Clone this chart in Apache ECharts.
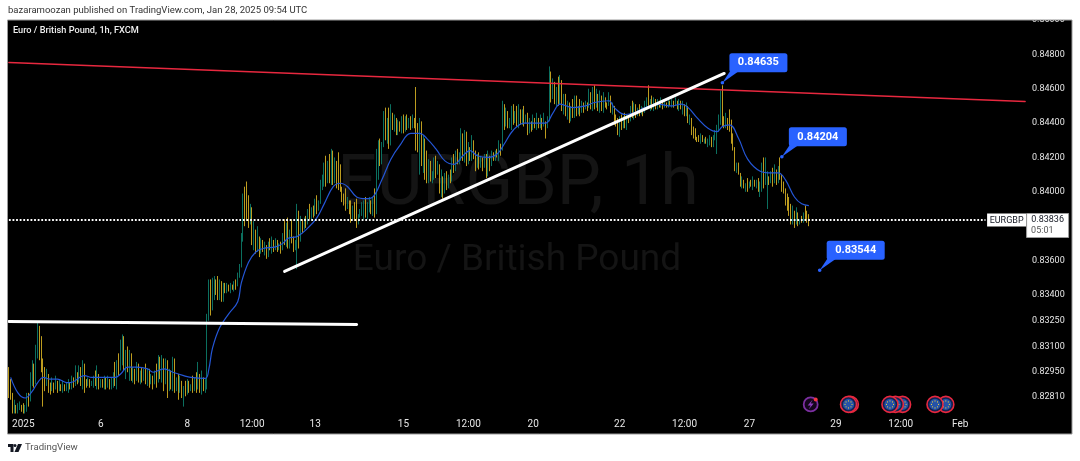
<!DOCTYPE html>
<html><head><meta charset="utf-8">
<style>html,body{margin:0;padding:0;background:#fff}#c{width:1080px;height:461px}</style>
<script src="https://cdn.jsdelivr.net/npm/echarts@6/dist/echarts.min.js"></script>
</head><body><div id="c"></div>
<script>
// prices are in units of 0.0001 (8480 = 0.84800); open of a bar = previous close
const highs=[
8298,8291,8283,8279,8276,8277,8278,8276,8277,8276,8283,8283,8295,8302,8300,8311,8324,8322,8316,8303,
8298,8297,8292,8289,8292,8289,8293,8289,8291,8288,8290,8288,8289,8291,8289,8293,8292,8299,8295,8299,
8298,8302,8300,8291,8292,8291,8290,8293,8296,8299,8294,8291,8291,8293,8292,8293,8290,8292,8295,8301,
8302,8306,8314,8317,8312,8304,8310,8308,8300,8298,8296,8301,8300,8296,8298,8297,8300,8295,8292,8294,
8293,8296,8300,8305,8304,8305,8300,8303,8302,8297,8296,8304,8298,8292,8294,8293,8290,8287,8290,8291,
8290,8288,8293,8292,8295,8301,8294,8296,8292,8291,8329,8349,8349,8350,8351,8349,8351,8349,8348,8347,
8347,8347,8346,8347,8346,8348,8349,8353,8358,8376,8399,8403,8406,8398,8393,8391,8383,8378,8380,8370,
8373,8372,8371,8368,8370,8373,8374,8372,8373,8372,8370,8371,8376,8384,8382,8385,8378,8384,8374,8372,
8393,8389,8386,8384,8385,8386,8390,8393,8391,8392,8396,8398,8395,8407,8410,8417,8421,8418,8422,8425,
8424,8420,8415,8423,8416,8403,8399,8402,8397,8394,8395,8392,8394,8396,8387,8390,8394,8395,8397,8394,
8397,8395,8397,8402,8425,8430,8431,8429,8447,8449,8443,8449,8451,8446,8445,8443,8442,8441,8444,8445,
8444,8445,8441,8444,8445,8443,8461,8440,8443,8438,8433,8431,8424,8419,8418,8412,8420,8421,8418,8415,
8413,8404,8411,8412,8410,8413,8420,8422,8424,8425,8423,8437,8431,8436,8435,8429,8426,8433,8428,8424,
8422,8423,8421,8420,8422,8422,8424,8419,8424,8423,8424,8425,8430,8428,8453,8451,8449,8447,8443,8450,
8451,8447,8450,8451,8446,8448,8450,8445,8446,8443,8440,8445,8443,8446,8443,8445,8443,8446,8440,8444,
8473,8456,8466,8464,8461,8467,8468,8459,8457,8457,8453,8452,8450,8454,8456,8456,8450,8454,8453,8452,
8453,8452,8460,8454,8461,8462,8460,8455,8459,8456,8458,8455,8452,8458,8454,8452,8449,8445,8443,8444,
8445,8444,8446,8445,8443,8450,8453,8452,8449,8447,8451,8450,8449,8453,8455,8462,8452,8456,8455,8454,
8454,8453,8455,8453,8454,8452,8455,8453,8454,8453,8455,8452,8454,8453,8453,8451,8452,8450,8445,8442,
8438,8437,8432,8433,8434,8433,8431,8432,8431,8433,8432,8433,8436,8439,8445,8459,8462,8444,8446,8441,
8448,8442,8434,8425,8417,8417,8410,8409,8405,8405,8408,8406,8407,8409,8405,8407,8408,8406,8417,8420,
8420,8412,8409,8412,8414,8416,8411,8415,8420,8410,8406,8402,8399,8397,8393,8392,8389,8391,8388,8384,8386,8385,8392,8389,8387];
const lows=[
8280,8279,8271,8271,8271,8272,8273,8272,8271,8271,8272,8275,8278,8287,8286,8288,8303,8302,8295,8275,
8284,8287,8283,8282,8284,8283,8285,8283,8285,8284,8283,8284,8284,8283,8285,8285,8286,8287,8288,8289,
8287,8285,8283,8286,8287,8286,8287,8286,8287,8285,8285,8286,8286,8285,8285,8286,8285,8285,8286,8287,
8285,8293,8296,8299,8296,8291,8296,8290,8290,8289,8288,8290,8289,8288,8289,8290,8288,8287,8286,8288,
8285,8288,8286,8290,8291,8289,8284,8288,8280,8284,8285,8284,8283,8284,8279,8283,8280,8275,8281,8282,
8283,8284,8283,8284,8283,8285,8283,8282,8284,8283,8285,8325,8328,8331,8337,8340,8337,8337,8336,8336,
8341,8341,8342,8341,8343,8342,8343,8345,8350,8361,8371,8380,8383,8379,8381,8369,8366,8364,8365,8362,
8364,8365,8363,8361,8362,8366,8364,8365,8366,8365,8366,8364,8366,8369,8368,8367,8367,8370,8365,8366,
8355,8367,8371,8376,8378,8379,8381,8384,8383,8385,8386,8387,8389,8393,8401,8403,8403,8405,8405,8404,
8404,8405,8402,8401,8400,8394,8392,8389,8390,8387,8382,8384,8383,8379,8381,8385,8386,8384,8385,8384,
8388,8387,8386,8385,8401,8407,8415,8416,8428,8430,8428,8425,8427,8436,8435,8433,8433,8435,8434,8434,
8435,8436,8437,8436,8437,8437,8424,8423,8410,8415,8411,8407,8405,8405,8406,8405,8407,8408,8410,8399,
8397,8396,8400,8401,8402,8405,8409,8411,8412,8416,8416,8418,8418,8417,8415,8416,8418,8418,8419,8412,
8414,8413,8414,8412,8414,8408,8409,8412,8418,8418,8418,8420,8418,8421,8428,8436,8438,8437,8437,8436,
8439,8440,8438,8437,8439,8439,8438,8440,8433,8434,8435,8436,8437,8436,8437,8437,8436,8438,8431,8437,
8441,8452,8454,8451,8450,8450,8451,8447,8445,8444,8442,8440,8441,8443,8443,8444,8445,8444,8446,8446,
8448,8447,8449,8448,8447,8448,8449,8447,8446,8447,8446,8449,8448,8450,8446,8445,8439,8438,8433,8432,
8436,8437,8437,8436,8440,8442,8443,8442,8443,8444,8444,8445,8444,8446,8449,8449,8447,8448,8447,8448,
8448,8449,8449,8448,8449,8449,8449,8450,8449,8449,8450,8448,8447,8448,8445,8444,8444,8440,8439,8433,
8431,8430,8429,8429,8428,8429,8428,8428,8426,8427,8426,8426,8430,8422,8435,8439,8438,8437,8437,8436,
8435,8428,8424,8412,8411,8410,8403,8402,8402,8400,8400,8402,8403,8401,8403,8402,8400,8397,8400,8402,
8405,8390,8404,8405,8403,8406,8404,8405,8407,8400,8399,8392,8389,8386,8381,8381,8379,8384,8380,8381,8382,8382,8383,8382,8380];
const closes=[
8287,8280,8272,8272,8271,8276,8276,8274,8272,8275,8282,8280,8293,8300,8290,8307,8322,8308,8301,8293,
8289,8294,8287,8285,8289,8286,8290,8284,8287,8284,8288,8285,8286,8289,8286,8291,8287,8294,8290,8296,
8288,8299,8290,8287,8289,8288,8289,8290,8287,8294,8287,8290,8288,8291,8287,8291,8288,8290,8292,8288,
8298,8296,8311,8316,8301,8308,8295,8306,8292,8297,8291,8298,8292,8296,8290,8295,8292,8297,8289,8291,
8290,8294,8289,8299,8292,8303,8291,8301,8285,8296,8287,8303,8286,8290,8285,8290,8281,8287,8283,8288,
8284,8287,8285,8290,8286,8291,8287,8292,8285,8287,8327,8345,8335,8347,8348,8343,8340,8346,8339,8344,
8343,8345,8342,8345,8344,8347,8346,8352,8356,8374,8398,8392,8386,8381,8387,8372,8376,8367,8374,8365,
8370,8366,8369,8363,8371,8367,8372,8366,8371,8368,8369,8367,8375,8371,8381,8371,8377,8372,8368,8370,
8375,8372,8380,8378,8383,8381,8388,8385,8391,8387,8394,8389,8393,8404,8408,8415,8407,8416,8409,8420,
8410,8418,8407,8403,8402,8397,8395,8391,8395,8392,8389,8391,8386,8385,8385,8389,8391,8392,8388,8390,
8393,8389,8395,8387,8420,8427,8418,8426,8444,8432,8440,8434,8444,8438,8441,8437,8439,8436,8442,8437,
8440,8438,8443,8439,8442,8438,8430,8427,8441,8420,8429,8412,8409,8417,8408,8410,8419,8412,8416,8402,
8409,8399,8408,8403,8409,8406,8417,8413,8421,8419,8422,8434,8425,8433,8420,8424,8420,8430,8421,8414,
8418,8415,8420,8416,8419,8411,8421,8415,8422,8419,8423,8421,8428,8424,8451,8441,8447,8440,8442,8447,
8442,8445,8441,8448,8442,8446,8440,8443,8436,8441,8438,8443,8439,8443,8440,8442,8439,8441,8438,8443,
8470,8454,8462,8453,8458,8452,8465,8450,8455,8446,8451,8443,8448,8445,8453,8447,8449,8447,8451,8448,
8450,8449,8458,8451,8459,8450,8457,8449,8456,8450,8454,8452,8450,8456,8448,8450,8442,8441,8436,8441,
8438,8443,8439,8442,8441,8448,8445,8451,8446,8449,8447,8449,8446,8451,8453,8451,8454,8450,8453,8450,
8452,8450,8453,8450,8452,8451,8453,8451,8452,8450,8453,8449,8452,8449,8451,8446,8449,8441,8443,8436,
8434,8432,8431,8430,8432,8430,8431,8429,8430,8431,8428,8431,8434,8437,8443,8456,8441,8440,8443,8438,
8436,8430,8426,8414,8416,8411,8405,8407,8403,8404,8402,8405,8403,8407,8404,8405,8402,8404,8415,8404,
8407,8408,8406,8411,8405,8413,8407,8412,8409,8403,8400,8394,8391,8387,8383,8387,8381,8387,8383,8384,8383,8388,8386,8385,8383.6];
// moving average, read at the listed bar numbers
const maBars=[1,5,9,13,16,19,23,27,32,34,42,46,53,59,62,66,71,77,80,86,91,97,101,109,111,113,117,122,127,129,133,137,141,148,152,155,160,166,171,175,180,184,188,193,198,202,207,212,217,223,228,232,237,242,247,252,256,260,266,271,275,280,286,294,298,302,306,313,320,325,333,336,342,347,353,360,368,373,377,382,388,393,396,400,405,410,417,423,427,431,436,440,444];
const maValues=[8292,8283,8280,8284,8289,8292,8291,8291,8289,8289,8293,8292,8292,8292,8294,8298,8298,8297,8295,8297,8295,8293,8292,8291.4,8297,8309,8321,8329,8336,8347,8359,8365,8367,8368,8370,8373,8374,8379,8385,8393,8403,8405,8403,8397,8396,8397,8407,8419,8427,8434,8434,8431,8425,8418,8416,8421,8424,8421,8420,8422,8428,8436,8440,8440,8440,8446,8451,8449,8450,8452,8453,8449,8445,8446,8449,8451,8450,8451,8449,8443,8437,8435,8438,8439,8431,8419,8412,8411,8411,8407,8397,8393,8392];
const priceTicks=[0.85,0.848,0.846,0.844,0.842,0.84,0.836,0.834,0.8325,0.831,0.8295,0.8281];
const timeBars=[8,51,99,135,170,219,255,291,339,375,411,459,495,528];
const timeLabels=['2025','6','8','12:00','13','15','12:00','20','22','12:00','27','29','12:00','Feb'];
const totalBars=565;
const redLine=[[0,0.84753],[564,0.84526]];
const whiteLineA=[[0,0.83246],[193,0.83228]];
const whiteLineB=[[153,0.83537],[397,0.84689]];
const lastPrice=0.83836, lastTime='05:01', symbol='EURGBP', dottedEndBar=542;
const noteBars=[396,428.5,450];
const notePrices=[0.84635,0.84204,0.83544];
const flagOrder=[519.5,514,496,492,488.5,467,466];
const boltBar=445, iconPrice=0.82763;

const unit=10000;
const categories=Array.from({length:totalBars},(_,i)=>String(i));
const candles=closes.map((c,i)=>{
  const o=i?closes[i-1]:8292;
  return [o/unit,c/unit,Math.min(lows[i],o,c)/unit,Math.max(highs[i],o,c)/unit];
});
const maData=maBars.map((b,i)=>[b,maValues[i]/unit]);
const lineItem=(pts,color,width,type,cap)=>[
 {coord:pts[0],lineStyle:{color,width,type:type||'solid',cap:cap||'round'}},{coord:pts[1]}];

function renderNote(params,api){
  const p=api.coord([api.value(0),api.value(1)]);const x=p[0],y=p[1];
  const blue='#2962ff';
  return {type:'group',children:[
    {type:'polygon',shape:{points:[[x,y],[x+8,y-12],[x+17,y-12]]},style:{fill:blue}},
    {type:'circle',shape:{cx:x,cy:y,r:1.8},style:{fill:blue}},
    {type:'rect',shape:{x:x+7,y:y-29.5,width:58,height:19,r:2.5},style:{fill:blue}},
    {type:'text',x:x+36,y:y-20,style:{text:api.value(1).toFixed(5),fill:'#fff',font:'bold 11px Roboto',align:'center',verticalAlign:'middle'}}
  ]};
}
function renderLast(params,api){
  const p=api.coord([564,lastPrice]);const x=p[0],y=p[1];
  return {type:'group',children:[
    {type:'rect',shape:{x:x-38,y:y-6.5,width:39,height:13},style:{fill:'#fff'}},
    {type:'text',x:x-18.5,y:y+0.5,style:{text:symbol,fill:'#131722',font:'9px Roboto',align:'center',verticalAlign:'middle'}},
    {type:'rect',shape:{x:x+1.5,y:y-6.5,width:42,height:24},style:{fill:'#fff',stroke:'#9e9e9e',lineWidth:1}},
    {type:'text',x:x+22.5,y:y-0.5,style:{text:lastPrice.toFixed(5),fill:'#131722',font:'9px Roboto',align:'center',verticalAlign:'middle'}},
    {type:'text',x:x+6,y:y+10.5,style:{text:lastTime,fill:'#555',font:'9px Roboto',align:'left',verticalAlign:'middle'}}
  ]};
}
function renderFlag(params,api){
  const p=api.coord([api.value(0),iconPrice]);const x=p[0],y=p[1];
  const kids=[{type:'circle',shape:{cx:x,cy:y,r:8},style:{fill:'#12224f',stroke:'#e8283f',lineWidth:1.6}},
              {type:'circle',shape:{cx:x,cy:y,r:5.6},style:{fill:'#2452a8'}}];
  for(let k=0;k<8;k++){const a=k*Math.PI/4;
    kids.push({type:'circle',shape:{cx:x+3.5*Math.cos(a),cy:y+3.5*Math.sin(a),r:0.55},style:{fill:'#f5d33a'}});}
  return {type:'group',children:kids};
}
function renderBolt(params,api){
  const p=api.coord([api.value(0),iconPrice]);const x=p[0],y=p[1];
  return {type:'group',children:[
    {type:'circle',shape:{cx:x,cy:y,r:7},style:{fill:'#14061c',stroke:'#7b2fa0',lineWidth:1.8}},
    {type:'polygon',shape:{points:[[x+2,y-5],[x-3,y+1],[x,y+1],[x-2,y+5],[x+3,y-1],[x,y-1]]},style:{fill:'#8e3cc0'}},
    {type:'circle',shape:{cx:x+5,cy:y-5,r:2},style:{fill:'#f23645'}}
  ]};
}

const chart=echarts.init(document.getElementById('c'),null,{renderer:'canvas'});
chart.setOption({
  animation:false,backgroundColor:'#fff',
  grid:{left:8,right:54,top:20,bottom:47,containLabel:false},
  xAxis:{type:'category',data:categories,boundaryGap:true,
    axisLine:{show:false},axisTick:{show:false},splitLine:{show:false},
    axisLabel:{color:'#e6e6e6',fontFamily:'Roboto',fontSize:10,margin:5,hideOverlap:false,
      interval:(i)=>timeBars.includes(i),
      formatter:(v,i)=>timeLabels[timeBars.indexOf(Number(v))]||''}},
  yAxis:{type:'value',position:'right',scale:true,min:0.82707,max:0.85,
    axisLine:{show:false},axisTick:{show:false},splitLine:{show:false},
    axisLabel:{color:'#e6e6e6',fontFamily:'Roboto',fontSize:9,margin:6,
      customValues:priceTicks,formatter:(v)=>v.toFixed(5)}},
  graphic:[
    {type:'rect',z:-10,shape:{x:7.5,y:20,width:1064.5,height:414},style:{fill:'#000'}},
    {type:'text',z:1,x:518,y:186,style:{text:'EURGBP, 1h',fill:'#141414',font:'70px Roboto',align:'center',verticalAlign:'middle'}},
    {type:'text',z:1,x:517,y:261,style:{text:'Euro / British Pound',fill:'#141414',font:'37px Roboto',align:'center',verticalAlign:'middle'}},
    {type:'rect',z:100,shape:{x:980,y:0,width:100,height:19.5},style:{fill:'#fff'}},
    {type:'rect',z:101,shape:{x:7.5,y:20,width:1064.5,height:414},style:{fill:'none',stroke:'#9a9a9a',lineWidth:1}},
    {type:'text',z:102,x:8,y:11,style:{text:'bazaramoozan published on TradingView.com, Jan 28, 2025 09:54 UTC',fill:'#333',font:'9.5px Roboto',verticalAlign:'middle'}},
    {type:'text',z:102,x:13,y:31,style:{text:'Euro / British Pound, 1h, FXCM',fill:'#eee',font:'500 9.2px Roboto',verticalAlign:'middle'}},
    {type:'text',z:102,x:25,y:448,style:{text:'TradingView',fill:'#555',font:'9.6px Roboto',verticalAlign:'middle'}},
    {type:'polygon',z:102,shape:{points:[[8,444],[13.5,444],[13.5,452],[10.5,452],[10.5,447],[8,447]]},style:{fill:'#131722'}},
    {type:'circle',z:102,shape:{cx:15,cy:445.5,r:1.5},style:{fill:'#131722'}},
    {type:'polygon',z:102,shape:{points:[[18,444],[22,444],[18.5,452],[14.5,452]]},style:{fill:'#131722'}}
  ],
  series:[
    {type:'candlestick',name:'EURGBP',data:candles,barWidth:1,z:3,
     itemStyle:{color:'#0b6f5f',color0:'#bd9c1f',borderColor:'#0b6f5f',borderColor0:'#bd9c1f',borderWidth:1}},
    {type:'line',name:'MA',data:maData,smooth:0.4,showSymbol:false,z:4,
     lineStyle:{color:'#2456d6',width:1.2}},
    {type:'line',name:'drawings',data:[],z:5,
     markLine:{silent:true,symbol:'none',animation:false,label:{show:false},precision:6,
       data:[lineItem(redLine,'#e8283f',1.5),
             lineItem(whiteLineA,'#ffffff',3),
             lineItem(whiteLineB,'#ffffff',3),
             lineItem([[0,lastPrice],[dottedEndBar,lastPrice]],'#ffffff',2,[1.8,1.8],'butt')]}},
    {type:'custom',name:'notes',renderItem:renderNote,data:noteBars.map((b,i)=>[b,notePrices[i]]),z:6,silent:true,clip:false},
    {type:'custom',name:'last',renderItem:renderLast,data:[[564,lastPrice]],z:6,silent:true,clip:false},
    {type:'custom',name:'flags',renderItem:renderFlag,data:flagOrder.map(b=>[b,iconPrice]),z:6,silent:true,clip:false},
    {type:'custom',name:'bolt',renderItem:renderBolt,data:[[boltBar,iconPrice]],z:6,silent:true,clip:false}
  ]
});
</script></body></html>
